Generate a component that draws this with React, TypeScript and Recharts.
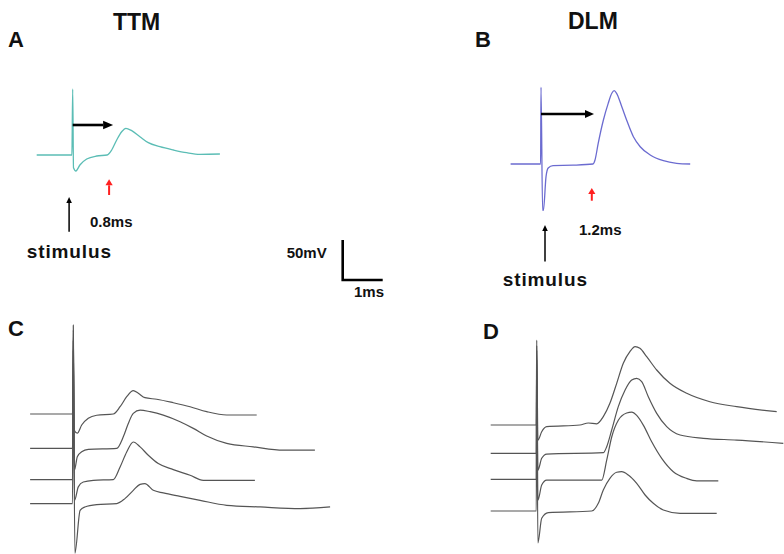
import React from "react";
import { LineChart, Line, XAxis, YAxis } from "recharts";

type Pt = [number, number];

// display scale, matches the 50 mV / 1 ms bar
const PX_PER_MS = 40;
const PX_PER_MV = 0.8;

// A: TTM single response (ms from stimulus, mV from baseline)
const TTM_TRACE: Pt[] = [
  [-0.9, 0], [-0.02, 0], [0, 82.5], [0.02, -16], [0.08, -20], [0.18, -12.5],
  [0.35, -5], [0.6, -1.25], [0.86, 0], [0.975, 6.25], [1.1, 18.75], [1.225, 29.1],
  [1.33, 33.4], [1.475, 30.4], [1.68, 22.9], [1.89, 15.4], [2.18, 10.4],
  [2.52, 6.25], [2.85, 2.9], [3.18, 0.9], [3.68, 1.25],
];
const TTM_LATENCY_ARROW: Pt[] = [[0, 37.5], [0.76, 37.5]];
const TTM_ONSET_MARK: Pt[] = [[0.91, -50], [0.91, -37.9]];
const TTM_STIM_ARROW: Pt[] = [[-0.09, -96], [-0.09, -60]];

// B: DLM single response
const DLM_TRACE: Pt[] = [
  [-0.76, 0], [-0.01, 0], [0, 96], [0.04, -58], [0.06, -58], [0.125, -16],
  [0.18, -5], [0.3, -2], [0.8, -1.5], [1.3, 0], [1.35, 5], [1.43, 25.8],
  [1.56, 55], [1.68, 75.8], [1.77, 88.4], [1.83, 91.6], [1.89, 88.4],
  [2.02, 71.6], [2.14, 55], [2.31, 34.1], [2.48, 21.6], [2.73, 11.25],
  [3.06, 4.1], [3.39, 0.9], [3.73, 0],
];
const DLM_LATENCY_ARROW: Pt[] = [[0, 62.5], [1.1, 62.5]];
const DLM_ONSET_MARK: Pt[] = [[1.27, -45.9], [1.27, -37.5]];
const DLM_STIM_ARROW: Pt[] = [[0.1, -122], [0.1, -83.75]];

// C: TTM, four sweeps
const TTM_SWEEP_1: Pt[] = [
  [-1.08, 0], [-0.02, 0], [0, 111], [0.02, -20], [0.1, -24], [0.21, -13.75],
  [0.375, -5.4], [0.585, -1.6], [1.0, 0], [1.17, 9.1], [1.335, 21.6], [1.5, 29.1],
  [1.625, 25.9], [1.79, 20.4], [2.085, 18.4], [2.5, 14.1], [2.92, 9.1],
  [3.335, 2.9], [3.835, -1.25], [4.585, -1.25],
];
const TTM_SWEEP_2: Pt[] = [
  [-1.08, 0], [-0.02, 0], [0, 148], [0.03, -27], [0.1, -10.4], [0.21, -4.2],
  [0.375, -1.25], [1.085, 0], [1.25, 14.5], [1.375, 31.25], [1.5, 43.75],
  [1.67, 47.9], [1.92, 45.9], [2.25, 41.6], [2.67, 33.3], [3.0, 25],
  [3.335, 15.4], [3.835, 6.25], [4.5, 2], [5.25, -2.1], [6.04, -2.1],
];
const TTM_SWEEP_3: Pt[] = [
  [-1.08, 0], [-0.02, 0], [0, 174], [0.03, -26], [0.125, -9.1], [0.25, -3],
  [0.5, -0.9], [1.0, 0], [1.17, 15.75], [1.335, 34.5], [1.5, 47], [1.67, 40.9],
  [1.875, 30.4], [2.125, 20], [2.5, 12.5], [2.92, 5.4], [3.25, -0.9],
  [3.835, -0.9], [4.54, -0.9],
];
const TTM_SWEEP_4: Pt[] = [
  [-1.08, 0], [-0.02, 0], [0, 191.6], [0.04, -62], [0.17, -8.4], [0.29, -4.2],
  [0.585, -1.25], [1.085, 0], [1.29, 6.25], [1.5, 16.6], [1.67, 24.1],
  [1.79, 25], [2.0, 16.6], [2.25, 13.4], [2.67, 9.1], [3.17, 4.1],
  [3.835, -2.1], [4.67, -4.2], [5.67, -6.25], [6.42, -4.2],
];
const TTM_SWEEP_OFFSETS = [0, -43, -82, -112];

// D: DLM, four sweeps
const DLM_SWEEP_1: Pt[] = [
  [-1.15, 0], [-0.01, 0], [0, 106], [0.03, -19], [0.125, -8.4], [0.25, -2.1],
  [1.08, 0], [1.29, 2.5], [1.5, 1.5], [1.665, 10.4], [1.83, 27.1], [2.0, 52.1],
  [2.165, 77.1], [2.33, 91.6], [2.46, 97.9], [2.58, 95.9], [2.75, 85.4],
  [3.0, 68.75], [3.33, 52.1], [3.75, 39.6], [4.33, 29.1], [5.0, 22.9], [6.0, 16.6],
];
const DLM_SWEEP_2: Pt[] = [
  [-1.15, 0], [-0.01, 0], [0, 135], [0.03, -21], [0.125, -6.25], [0.25, -0.9],
  [1.665, 0.75], [1.75, 8.25], [1.875, 29.1], [2.04, 58.3], [2.21, 79.1],
  [2.375, 91.6], [2.5, 93.75], [2.625, 89.6], [2.79, 70.8], [3.0, 50],
  [3.25, 33.3], [3.585, 22.9], [4.165, 18.75], [5.0, 16.6], [6.165, 12.5],
];
const DLM_SWEEP_3: Pt[] = [
  [-1.15, 0], [-0.01, 0], [0, 161.6], [0.03, -26], [0.125, -7.1], [0.25, -0.9],
  [1.625, -0.9], [1.75, 24], [1.875, 53], [2.04, 74], [2.25, 83], [2.375, 84.1],
  [2.5, 80], [2.665, 67.9], [2.875, 47], [3.125, 26.25], [3.415, 9.6],
  [3.75, 1.25], [4.0, -1.75], [4.54, -1.75],
];
const DLM_SWEEP_4: Pt[] = [
  [-1.15, 0], [-0.01, 0], [0, 189], [0.03, -40], [0.125, -9.1], [0.29, -2.1],
  [1.375, 0], [1.54, 9.6], [1.665, 26.25], [1.83, 40.9], [2.0, 48.4],
  [2.125, 49.1], [2.29, 45], [2.5, 34.6], [2.71, 20], [2.915, 9.6],
  [3.165, 1.25], [3.585, -2.9], [4.5, -2.9],
];
const DLM_SWEEP_OFFSETS = [0, -35.4, -68, -107.5];

// 50 mV / 1 ms scale bar
const SCALE_BAR: Pt[] = [[0, 50], [0, 0], [1, 0]];

const FONT = '"Liberation Sans", Arial, sans-serif';
const TEAL = "#5bbdb5";
const BLUE = "#6b6bd0";
const GREY = "#555555";
const RED = "#ff2020";

const rows = (pts: Pt[], offset = 0) => pts.map(([t, v]) => ({ t, v: v + offset }));

// arrowhead drawn on the second point of a two-point line
const arrowHead = (dir: "right" | "up", len: number, half: number, color: string) =>
  (props: any) => {
    const { cx, cy, index } = props;
    if (index !== 1 || cx == null) return <g key={`h${index}`} />;
    const pts =
      dir === "right"
        ? `${cx},${cy - half} ${cx + len},${cy} ${cx},${cy + half}`
        : `${cx - half},${cy} ${cx},${cy - len} ${cx + half},${cy}`;
    return <polygon key={`h${index}`} points={pts} fill={color} />;
  };

interface PanelProps {
  left: number;
  top: number;
  width: number;
  height: number;
  originX: number;
  originY: number;
  children: React.ReactNode;
}

function Panel({ left, top, width, height, originX, originY, children }: PanelProps) {
  const ox = originX - left;
  const oy = originY - top;
  const xDomain = [-ox / PX_PER_MS, (width - ox) / PX_PER_MS];
  const yDomain = [-(height - oy) / PX_PER_MV, oy / PX_PER_MV];
  return (
    <div style={{ position: "absolute", left, top }}>
      <LineChart width={width} height={height} margin={{ top: 0, right: 0, bottom: 0, left: 0 }}>
        <XAxis type="number" dataKey="t" domain={xDomain} hide allowDataOverflow />
        <YAxis type="number" domain={yDomain} hide allowDataOverflow />
        {children}
      </LineChart>
    </div>
  );
}

function trace(key: string, pts: Pt[], color: string, width: number, offset = 0, dot: any = false) {
  return (
    <Line
      key={key}
      data={rows(pts, offset)}
      dataKey="v"
      type={dot ? "linear" : "monotone"}
      stroke={color}
      strokeWidth={width}
      dot={dot}
      activeDot={false}
      isAnimationActive={false}
    />
  );
}

function Txt({ x, base, size, children, spacing = 0 }: { x: number; base: number; size: number; children: React.ReactNode; spacing?: number }) {
  return (
    <div
      style={{
        position: "absolute",
        left: x,
        top: base - size * 0.8465,
        fontSize: size,
        lineHeight: 1,
        fontWeight: 700,
        fontFamily: FONT,
        color: "#111",
        letterSpacing: spacing,
        whiteSpace: "nowrap",
      }}
    >
      {children}
    </div>
  );
}

export default function App() {
  return (
    <div style={{ position: "absolute", left: 0, top: 0, width: 784, height: 554, background: "#fff", overflow: "hidden" }}>
      <Panel left={20} top={70} width={240} height={200} originX={72.7} originY={155}>
        {trace("a", TTM_TRACE, TEAL, 1.3)}
        {trace("a-lat", TTM_LATENCY_ARROW, "#000", 2.6, 0, arrowHead("right", 10, 4.2, "#000"))}
        {trace("a-on", TTM_ONSET_MARK, RED, 2, 0, arrowHead("up", 6, 3.6, RED))}
        {trace("a-stim", TTM_STIM_ARROW, "#000", 1.5, 0, arrowHead("up", 6, 2.8, "#000"))}
      </Panel>

      <Panel left={490} top={70} width={220} height={210} originX={541} originY={164}>
        {trace("b", DLM_TRACE, BLUE, 1.3)}
        {trace("b-lat", DLM_LATENCY_ARROW, "#000", 2.6, 0, arrowHead("right", 9, 4, "#000"))}
        {trace("b-on", DLM_ONSET_MARK, RED, 2, 0, arrowHead("up", 6, 3.6, RED))}
        {trace("b-stim", DLM_STIM_ARROW, "#000", 1.5, 0, arrowHead("up", 6, 2.8, "#000"))}
      </Panel>

      <Panel left={330} top={230} width={70} height={60} originX={342.7} originY={280}>
        <Line
          data={rows(SCALE_BAR)}
          dataKey="v"
          type="linear"
          stroke="#000"
          strokeWidth={2.6}
          dot={false}
          activeDot={false}
          isAnimationActive={false}
        />
      </Panel>

      <Panel left={20} top={315} width={320} height={239} originX={73.3} originY={414}>
        {[TTM_SWEEP_1, TTM_SWEEP_2, TTM_SWEEP_3, TTM_SWEEP_4].map((s, i) =>
          trace(`c${i}`, s, GREY, 1.2, TTM_SWEEP_OFFSETS[i])
        )}
      </Panel>

      <Panel left={480} top={330} width={304} height={224} originX={536.7} originY={425}>
        {[DLM_SWEEP_1, DLM_SWEEP_2, DLM_SWEEP_3, DLM_SWEEP_4].map((s, i) =>
          trace(`d${i}`, s, GREY, 1.2, DLM_SWEEP_OFFSETS[i])
        )}
      </Panel>

      <Txt x={113} base={30} size={23}>TTM</Txt>
      <Txt x={568} base={29} size={23}>DLM</Txt>
      <Txt x={8} base={48} size={22}>A</Txt>
      <Txt x={475} base={47.3} size={22}>B</Txt>
      <Txt x={8} base={336.7} size={22}>C</Txt>
      <Txt x={483} base={340} size={22}>D</Txt>
      <Txt x={90} base={226.7} size={15}>0.8ms</Txt>
      <Txt x={579} base={235} size={15}>1.2ms</Txt>
      <Txt x={26.7} base={258.3} size={19} spacing={0.9}>stimulus</Txt>
      <Txt x={502.7} base={286} size={19} spacing={0.9}>stimulus</Txt>
      <Txt x={286.7} base={257.3} size={15}>50mV</Txt>
      <Txt x={354} base={296.7} size={15}>1ms</Txt>
    </div>
  );
}
